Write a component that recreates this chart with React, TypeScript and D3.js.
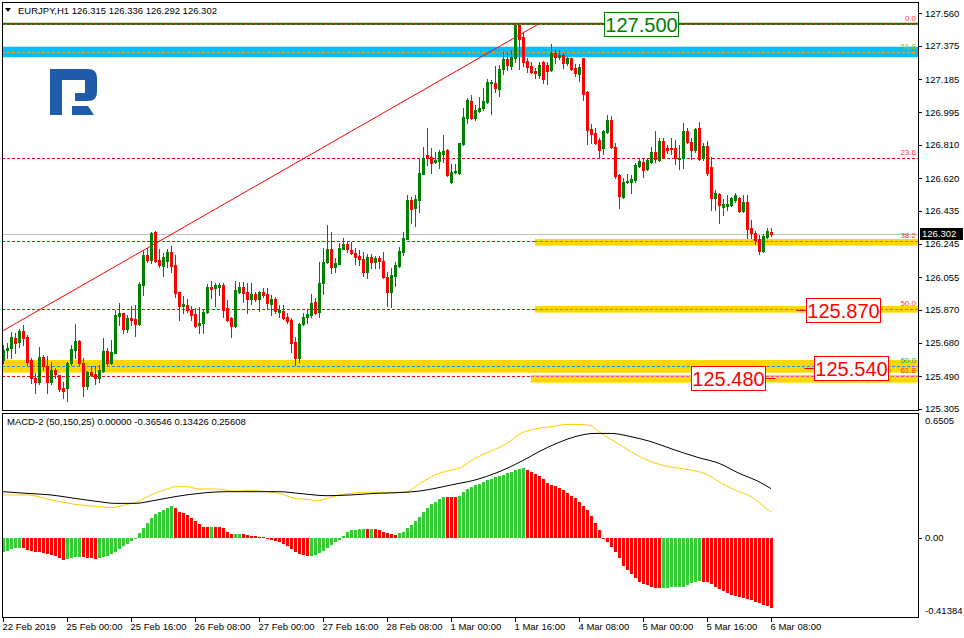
import * as d3 from 'd3';

const symbolTitle = 'EURJPY,H1  126.315 126.336 126.292 126.302';
const macdTitle = 'MACD-2 (50,150,25) 0.00000 -0.36546 0.13426 0.25608';

// H1 candles, 22 Feb 08:00 .. 6 Mar 08:00
const opens = [
  125.584, 125.642, 125.654, 125.707, 125.684, 125.749, 125.715, 125.584, 125.483, 125.460,
  125.603, 125.549, 125.460, 125.527, 125.498, 125.426, 125.426, 125.565, 125.641, 125.692,
  125.568, 125.437, 125.517, 125.504, 125.483, 125.523, 125.635, 125.568, 125.625, 125.836,
  125.850, 125.760, 125.821, 125.815, 125.787, 126.011, 126.182, 126.154, 126.311, 126.154,
  126.121, 126.148, 126.197, 126.125, 125.973, 125.889, 125.897, 125.869, 125.844, 125.783,
  125.793, 125.855, 126.002, 125.996, 126.002, 126.011, 125.878, 125.821, 125.779, 125.973,
  126.002, 125.973, 125.931, 125.958, 125.931, 125.973, 125.958, 125.905, 125.931, 125.859,
  125.865, 125.831, 125.812, 125.688, 125.593, 125.787, 125.831, 125.840, 125.916, 125.859,
  126.020, 126.140, 126.216, 126.116, 126.131, 126.216, 126.243, 126.211, 126.192, 126.178,
  126.159, 126.083, 126.173, 126.140, 126.167, 126.148, 126.059, 125.973, 126.062, 126.121,
  126.201, 126.273, 126.496, 126.448, 126.496, 126.644, 126.752, 126.743, 126.710, 126.718,
  126.756, 126.781, 126.600, 126.653, 126.648, 126.813, 126.965, 127.060, 126.961, 127.003,
  127.018, 127.052, 127.161, 127.161, 127.128, 127.242, 127.297, 127.261, 127.307, 127.495,
  127.427, 127.290, 127.261, 127.231, 127.208, 127.284, 127.265, 127.237, 127.332, 127.313,
  127.322, 127.275, 127.303, 127.246, 127.214, 127.303, 127.109, 126.900, 126.876, 126.838,
  126.790, 126.885, 126.952, 126.800, 126.638, 126.515, 126.596, 126.600, 126.610, 126.691,
  126.714, 126.672, 126.714, 126.771, 126.724, 126.832, 126.790, 126.794, 126.790, 126.729,
  126.733, 126.889, 126.828, 126.781, 126.904, 126.737, 126.803, 126.686, 126.505, 126.530,
  126.458, 126.463, 126.467, 126.496, 126.505, 126.435, 126.482, 126.334, 126.309, 126.273,
  126.205, 126.287, 126.315,
];
const highs = [
  125.669, 125.679, 125.745, 125.736, 125.760, 125.783, 125.726, 125.593, 125.508, 125.660,
  125.612, 125.608, 125.574, 125.536, 125.498, 125.460, 125.574, 125.669, 125.789, 125.698,
  125.593, 125.523, 125.546, 125.546, 125.555, 125.707, 125.654, 125.698, 125.869, 125.907,
  125.850, 125.840, 125.893, 125.897, 126.030, 126.211, 126.220, 126.315, 126.320, 126.216,
  126.192, 126.216, 126.235, 126.182, 125.973, 125.950, 125.931, 125.893, 125.878, 125.888,
  125.874, 126.015, 126.034, 126.020, 126.024, 126.020, 125.926, 125.831, 126.034, 126.030,
  126.030, 126.020, 126.024, 125.969, 125.977, 125.992, 125.996, 125.954, 125.945, 125.897,
  125.897, 125.850, 125.821, 125.717, 125.793, 125.850, 125.869, 125.958, 125.939, 126.144,
  126.220, 126.353, 126.315, 126.163, 126.249, 126.281, 126.262, 126.258, 126.220, 126.211,
  126.201, 126.186, 126.188, 126.178, 126.178, 126.197, 126.087, 126.106, 126.144, 126.230,
  126.315, 126.524, 126.515, 126.524, 126.733, 126.800, 126.904, 126.790, 126.771, 126.781,
  126.866, 126.784, 126.699, 126.699, 126.822, 127.022, 127.075, 127.094, 127.037, 127.085,
  127.132, 127.185, 127.180, 127.261, 127.265, 127.341, 127.337, 127.350, 127.495, 127.500,
  127.446, 127.303, 127.284, 127.246, 127.280, 127.290, 127.284, 127.383, 127.356, 127.350,
  127.332, 127.313, 127.307, 127.269, 127.269, 127.307, 127.117, 126.927, 126.908, 126.847,
  126.895, 126.980, 126.976, 126.819, 126.642, 126.619, 126.642, 126.638, 126.705, 126.737,
  126.733, 126.737, 126.800, 126.889, 126.847, 126.847, 126.809, 126.847, 126.838, 126.809,
  126.932, 126.904, 126.847, 126.904, 126.942, 126.819, 126.832, 126.743, 126.552, 126.534,
  126.501, 126.524, 126.515, 126.534, 126.515, 126.524, 126.524, 126.382, 126.319, 126.296,
  126.300, 126.334, 126.336,
];
const lows = [
  125.565, 125.593, 125.593, 125.622, 125.660, 125.669, 125.555, 125.451, 125.394, 125.445,
  125.527, 125.394, 125.445, 125.479, 125.409, 125.365, 125.352, 125.555, 125.593, 125.555,
  125.380, 125.418, 125.489, 125.445, 125.456, 125.517, 125.555, 125.559, 125.622, 125.783,
  125.736, 125.741, 125.783, 125.722, 125.783, 125.954, 126.140, 126.135, 126.140, 126.116,
  126.064, 126.116, 126.083, 125.945, 125.812, 125.850, 125.855, 125.812, 125.774, 125.736,
  125.736, 125.850, 125.935, 125.893, 125.954, 125.831, 125.806, 125.717, 125.774, 125.964,
  125.916, 125.850, 125.901, 125.920, 125.863, 125.945, 125.882, 125.840, 125.853, 125.831,
  125.817, 125.793, 125.627, 125.555, 125.574, 125.783, 125.793, 125.831, 125.844, 125.831,
  125.958, 126.135, 126.078, 126.087, 126.129, 126.216, 126.201, 126.186, 126.129, 126.125,
  126.064, 126.053, 126.106, 126.110, 126.106, 126.049, 125.891, 125.886, 126.007, 126.116,
  126.182, 126.273, 126.363, 126.349, 126.425, 126.642, 126.695, 126.651, 126.704, 126.680,
  126.714, 126.634, 126.594, 126.648, 126.646, 126.809, 126.933, 126.957, 126.952, 126.999,
  127.009, 127.047, 126.984, 127.109, 127.090, 127.212, 127.237, 127.242, 127.284, 127.242,
  127.261, 127.227, 127.218, 127.193, 127.189, 127.164, 127.155, 127.231, 127.275, 127.299,
  127.246, 127.265, 127.237, 127.204, 127.174, 127.066, 126.813, 126.819, 126.813, 126.733,
  126.756, 126.876, 126.790, 126.623, 126.448, 126.509, 126.591, 126.533, 126.600, 126.686,
  126.629, 126.667, 126.705, 126.714, 126.718, 126.737, 126.762, 126.756, 126.699, 126.672,
  126.680, 126.819, 126.729, 126.771, 126.724, 126.724, 126.638, 126.439, 126.439, 126.363,
  126.410, 126.439, 126.463, 126.486, 126.425, 126.429, 126.281, 126.281, 126.243, 126.186,
  126.201, 126.281, 126.292,
];
const closes = [
  125.641, 125.654, 125.713, 125.679, 125.749, 125.711, 125.574, 125.483, 125.460, 125.599,
  125.546, 125.460, 125.527, 125.502, 125.416, 125.409, 125.568, 125.646, 125.692, 125.565,
  125.437, 125.517, 125.498, 125.483, 125.527, 125.635, 125.568, 125.631, 125.840, 125.853,
  125.760, 125.825, 125.812, 125.787, 126.015, 126.182, 126.154, 126.306, 126.148, 126.125,
  126.173, 126.197, 126.121, 125.964, 125.893, 125.901, 125.869, 125.840, 125.779, 125.796,
  125.859, 126.002, 125.988, 126.011, 126.011, 125.869, 125.812, 125.779, 125.983, 126.002,
  125.967, 125.931, 125.958, 125.931, 125.973, 125.954, 125.907, 125.931, 125.863, 125.869,
  125.821, 125.808, 125.679, 125.597, 125.787, 125.831, 125.846, 125.907, 125.853, 126.020,
  126.144, 126.216, 126.116, 126.135, 126.220, 126.243, 126.216, 126.192, 126.173, 126.159,
  126.087, 126.173, 126.140, 126.163, 126.148, 126.059, 125.973, 126.068, 126.125, 126.205,
  126.277, 126.496, 126.444, 126.501, 126.647, 126.737, 126.733, 126.708, 126.724, 126.767,
  126.775, 126.638, 126.653, 126.661, 126.819, 126.971, 127.066, 126.961, 127.009, 127.022,
  127.060, 127.166, 127.170, 127.132, 127.242, 127.297, 127.265, 127.312, 127.493, 127.413,
  127.284, 127.256, 127.227, 127.218, 127.265, 127.185, 127.231, 127.332, 127.313, 127.322,
  127.275, 127.303, 127.242, 127.218, 127.256, 127.100, 126.895, 126.874, 126.822, 126.781,
  126.889, 126.952, 126.800, 126.634, 126.520, 126.600, 126.606, 126.613, 126.695, 126.718,
  126.667, 126.724, 126.771, 126.729, 126.832, 126.743, 126.781, 126.784, 126.733, 126.737,
  126.889, 126.828, 126.781, 126.900, 126.729, 126.805, 126.647, 126.505, 126.534, 126.467,
  126.471, 126.471, 126.509, 126.524, 126.433, 126.482, 126.330, 126.306, 126.268, 126.205,
  126.292, 126.319, 126.302,
];

const priceTicks = [127.56, 127.375, 127.185, 126.995, 126.81, 126.62, 126.435, 126.245, 126.055, 125.87, 125.68, 125.49, 125.305];
const lastPrice = 126.302;

const timeTickBars = [0, 16, 32, 48, 64, 80, 96, 112, 128, 144, 160, 176, 192];
const timeLabels = [
  '22 Feb 2019', '25 Feb 00:00', '25 Feb 16:00', '26 Feb 08:00', '27 Feb 00:00', '27 Feb 16:00',
  '28 Feb 08:00', '1 Mar 00:00', '1 Mar 16:00', '4 Mar 08:00', '5 Mar 00:00', '5 Mar 16:00', '6 Mar 08:00',
];

// fibo grid drawn from the swing low (off screen) to the 127.500 high
const fibLevels = [
  { label: '0.0', price: 127.5 },
  { label: '23.6', price: 126.733 },
  { label: '38.2', price: 126.259 },
  { label: '50.0', price: 125.875 },
  { label: '61.8', price: 125.491 },
];
const fibTrend = [
  { bar: 0, price: 125.75 },
  { bar: 134, price: 127.5 },
];
// second grid (only two levels visible)
const fib2Levels = [
  { label: '61.8', price: 127.339 },
  { label: '50.0', price: 125.549 },
];

// support / resistance zones: [low, high, first bar or null for full width]
const blueZone = { lo: 127.309, hi: 127.369, start: null as number | null };
const yellowZones = [
  { lo: 126.235, hi: 126.273, start: 133 as number | null, mid: 126.259 },
  { lo: 125.853, hi: 125.891, start: 133 as number | null, mid: 125.875 },
  { lo: 125.511, hi: 125.583, start: null as number | null, mid: null as number | null },
  { lo: 125.454, hi: 125.498, start: 132 as number | null, mid: 125.491 },
];

const priceTags = [
  { text: '127.500', price: 127.5, bar: 150.25, tail: 'none' },
  { text: '125.870', price: 125.87, bar: 200.75, tail: 'left' },
  { text: '125.540', price: 125.54, bar: 202.75, tail: 'left' },
  { text: '125.480', price: 125.48, bar: 172, tail: 'right' },
];

// MACD-2 histogram, one value per bar
const hist = [
  -0.077, -0.070, -0.059, -0.056, -0.052, -0.056, -0.064, -0.070, -0.073, -0.077,
  -0.082, -0.087, -0.090, -0.094, -0.104, -0.117, -0.111, -0.104, -0.103, -0.099,
  -0.103, -0.104, -0.108, -0.110, -0.108, -0.103, -0.096, -0.085, -0.073, -0.059,
  -0.045, -0.031, -0.017, -0.007, 0.023, 0.049, 0.075, 0.104, 0.122, 0.134,
  0.144, 0.157, 0.165, 0.153, 0.136, 0.127, 0.118, 0.101, 0.087, 0.070,
  0.057, 0.056, 0.057, 0.056, 0.056, 0.049, 0.031, 0.017, 0.019, 0.021,
  0.017, 0.014, 0.010, 0.007, 0.003, 0.003, -0.005, -0.012, -0.017, -0.024,
  -0.035, -0.043, -0.059, -0.077, -0.087, -0.092, -0.096, -0.094, -0.090, -0.082,
  -0.070, -0.052, -0.038, -0.024, -0.012, 0.010, 0.028, 0.038, 0.042, 0.043,
  0.045, 0.043, 0.045, 0.043, 0.040, 0.031, 0.023, 0.017, 0.014, 0.023,
  0.031, 0.049, 0.066, 0.087, 0.110, 0.132, 0.153, 0.174, 0.188, 0.200,
  0.212, 0.212, 0.212, 0.210, 0.219, 0.237, 0.254, 0.266, 0.275, 0.282,
  0.290, 0.299, 0.308, 0.315, 0.322, 0.329, 0.336, 0.343, 0.351, 0.358,
  0.365, 0.353, 0.341, 0.330, 0.320, 0.304, 0.287, 0.275, 0.268, 0.257,
  0.247, 0.233, 0.219, 0.205, 0.184, 0.167, 0.144, 0.115, 0.075, 0.040,
  -0.003, -0.021, -0.047, -0.073, -0.104, -0.146, -0.170, -0.191, -0.212, -0.230,
  -0.240, -0.249, -0.256, -0.261, -0.263, -0.261, -0.261, -0.259, -0.259, -0.257,
  -0.256, -0.247, -0.238, -0.231, -0.228, -0.230, -0.233, -0.243, -0.256, -0.266,
  -0.278, -0.289, -0.297, -0.303, -0.308, -0.313, -0.318, -0.325, -0.334, -0.343,
  -0.351, -0.358, -0.365,
];
// up / down runs of the histogram colouring
const histRuns: [string, number][] = [
  ['g', 5], ['r', 11], ['g', 4], ['r', 4], ['g', 19], ['r', 9], ['g', 1], ['r', 5], ['g', 2], ['r', 17],
  ['g', 14], ['r', 1], ['g', 1], ['r', 6], ['g', 12], ['r', 3], ['g', 17], ['r', 34], ['g', 10], ['r', 18],
];

const yellowBars = [0, 6, 12, 18, 24, 27, 31, 34, 37, 41, 43, 46, 49, 53, 58, 62, 66, 69, 73, 77, 78, 81, 84, 87, 90, 94, 99, 101, 103, 108, 112, 114, 118, 122, 126, 129, 133, 137, 141, 144, 147, 149, 153, 157, 161, 164, 168, 172, 176, 179, 183, 187, 191, 192];
const yellowValues = [0.223, 0.223, 0.197, 0.174, 0.162, 0.157, 0.174, 0.191, 0.223, 0.254, 0.266, 0.266, 0.254, 0.254, 0.243, 0.247, 0.240, 0.231, 0.205, 0.197, 0.191, 0.205, 0.223, 0.231, 0.237, 0.237, 0.237, 0.240, 0.266, 0.327, 0.353, 0.362, 0.414, 0.452, 0.492, 0.539, 0.567, 0.579, 0.591, 0.591, 0.584, 0.553, 0.501, 0.449, 0.405, 0.383, 0.365, 0.353, 0.330, 0.292, 0.249, 0.214, 0.150, 0.134];
const blackBars = [0, 6, 12, 18, 24, 28, 33, 37, 43, 49, 56, 62, 69, 74, 81, 87, 93, 99, 104, 108, 112, 118, 124, 131, 134, 139, 143, 148, 152, 157, 162, 168, 174, 179, 184, 189, 192];
const blackValues = [0.240, 0.231, 0.223, 0.205, 0.188, 0.179, 0.179, 0.191, 0.214, 0.231, 0.240, 0.240, 0.240, 0.231, 0.219, 0.223, 0.231, 0.235, 0.243, 0.257, 0.275, 0.301, 0.344, 0.414, 0.449, 0.497, 0.527, 0.544, 0.544, 0.527, 0.501, 0.457, 0.417, 0.388, 0.336, 0.292, 0.256];
const macdTicks = [0.6505, 0, -0.41384];

const FONT = 'Liberation Sans, Arial, sans-serif';
const BULL = '#008000';
const BEAR = '#ff0000';

export default function App() {
  const W = 964;
  const H = 638;
  const left = 2;
  const right = 918;
  const mainTop = 2;
  const mainBottom = 410;
  const macdTop = 413;
  const macdBottom = 617;

  const x = d3.scaleLinear().domain([0, 192]).range([3, 771]);
  const y = d3.scaleLinear().domain([125.298, 127.624]).range([mainBottom, mainTop]);
  const ym = d3.scaleLinear().domain([-0.41384, 0.6505]).range([macdBottom, macdTop]);

  const histColors: string[] = [];
  histRuns.forEach(([c, n]) => {
    for (let k = 0; k < n; k++) histColors.push(c);
  });

  const line = d3
    .line<[number, number]>()
    .x((d) => x(d[0]))
    .y((d) => ym(d[1]))
    .curve(d3.curveMonotoneX);
  const yellowPath = line(yellowBars.map((b, i) => [b, yellowValues[i]] as [number, number])) || '';
  const blackPath = line(blackBars.map((b, i) => [b, blackValues[i]] as [number, number])) || '';

  const zoneX = (start: number | null) => (start === null ? left : x(start));
  const py = (p: number) => Math.round(y(p)) + 0.5;
  const zeroY = Math.round(ym(0));

  return (
    <svg
      width={W}
      height={H}
      style={{ position: 'absolute', left: 0, top: 0, background: '#fff' }}
      fontFamily={FONT}
    >
      <rect x={0} y={0} width={W} height={H} fill="#fff" />

      {/* fibo levels (red dashed) */}
      {fibLevels.map((f) => (
        <line key={'f' + f.label} x1={left} x2={right} y1={py(f.price)} y2={py(f.price)} stroke="#ff0000" strokeDasharray="3,2" />
      ))}

      {/* zones */}
      <rect x={zoneX(blueZone.start)} y={y(blueZone.hi)} width={right - zoneX(blueZone.start)} height={y(blueZone.lo) - y(blueZone.hi)} fill="#00bfff" />
      {yellowZones.map((z, i) => (
        <rect key={'z' + i} x={zoneX(z.start)} y={y(z.hi)} width={right - zoneX(z.start)} height={y(z.lo) - y(z.hi)} fill="#ffd700" />
      ))}
      {yellowZones
        .filter((z) => z.mid !== null)
        .map((z, i) => (
          <line key={'zm' + i} x1={zoneX(z.start)} x2={right} y1={py(z.mid as number)} y2={py(z.mid as number)} stroke="#ff44cc" strokeDasharray="3,2" />
        ))}
      <line x1={left} x2={right} y1={py(fib2Levels[0].price)} y2={py(fib2Levels[0].price)} stroke="#ffa500" strokeDasharray="3,2" />
      <line x1={left} x2={right} y1={py(fib2Levels[1].price)} y2={py(fib2Levels[1].price)} stroke="#1e90ff" strokeDasharray="3,2" />

      {/* current price line */}
      <line x1={left} x2={right} y1={py(lastPrice)} y2={py(lastPrice)} stroke="#c0c0c0" />

      {/* fibo trend line */}
      <line x1={x(fibTrend[0].bar)} y1={y(fibTrend[0].price)} x2={x(fibTrend[1].bar)} y2={y(fibTrend[1].price)} stroke="#ff0000" />

      {/* 127.500 level */}
      <line x1={left} x2={right} y1={y(127.5)} y2={y(127.5)} stroke="#008000" strokeWidth={2} />
      <line x1={left} x2={right} y1={y(127.5)} y2={y(127.5)} stroke="#ff0000" strokeDasharray="3,2" />

      {/* candles */}
      {opens.map((o, i) => {
        const c = closes[i];
        const xs = Math.round(x(i));
        const col = c >= o ? BULL : BEAR;
        const yh = Math.round(y(highs[i]));
        const yl = Math.round(y(lows[i]));
        const yt = Math.round(y(Math.max(o, c)));
        const yb = Math.round(y(Math.min(o, c)));
        return (
          <g key={'c' + i} fill={col}>
            <rect x={xs} y={yh} width={1} height={Math.max(1, yl - yh + 1)} />
            <rect x={xs - 1} y={yt} width={3} height={Math.max(1, yb - yt + 1)} />
          </g>
        );
      })}

      {/* logo */}
      <g fill="#1f5ba8">
        <path d="M50,69 H88 Q97,69 97,78 V92 Q97,101 88,101 H75 V93 H85 V80 H62 V115 H50 Z" />
        <path d="M72,106 H88 L94,115 H72 Z" />
      </g>

      {/* fibo labels */}
      {fibLevels.map((f) => (
        <text key={'fl' + f.label} x={916} y={y(f.price) - 3} fontSize={8} textAnchor="end" fill="#ff3030">
          {f.label}
        </text>
      ))}
      <text x={916} y={y(fib2Levels[0].price) - 3} fontSize={8} textAnchor="end" fill="#8fbc2f">
        {fib2Levels[0].label}
      </text>
      <text x={916} y={y(fib2Levels[1].price) - 3} fontSize={8} textAnchor="end" fill="#20a0a8">
        {fib2Levels[1].label}
      </text>

      {/* price tags */}
      {priceTags.map((t) => {
        const bx = Math.round(x(t.bar)) + 0.5;
        const cy = Math.round(y(t.price));
        const col = t.tail === 'none' ? '#008000' : '#ff0000';
        const w = 74;
        return (
          <g key={'t' + t.text}>
            {t.tail === 'left' && <line x1={bx - 10} x2={bx} y1={cy + 0.5} y2={cy + 0.5} stroke={col} />}
            {t.tail === 'right' && <line x1={bx + w} x2={bx + w + 10} y1={cy + 0.5} y2={cy + 0.5} stroke={col} />}
            <rect x={bx} y={cy - 11.5} width={w} height={24} fill="#fff" stroke={col} />
            <text x={bx + w / 2} y={cy + 8} fontSize={20} textAnchor="middle" fill={col}>
              {t.text}
            </text>
          </g>
        );
      })}

      {/* header */}
      <path d="M5,8 H11 L8,12 Z" fill="#000" />
      <text x={18} y={14} fontSize={9.5} fill="#000">
        {symbolTitle}
      </text>

      {/* main frame and price axis */}
      <rect x={left + 0.5} y={mainTop + 0.5} width={right - left} height={mainBottom - mainTop} fill="none" stroke="#000" />
      {priceTicks.map((p) => (
        <g key={'p' + p}>
          <line x1={right} x2={right + 4} y1={py(p)} y2={py(p)} stroke="#000" />
          <text x={925} y={y(p) + 3.5} fontSize={9.5} fill="#000">
            {p.toFixed(3)}
          </text>
        </g>
      ))}
      <rect x={920} y={Math.round(y(lastPrice)) - 6} width={43} height={12} fill="#000" />
      <text x={922} y={y(lastPrice) + 3.5} fontSize={9.5} fill="#fff">
        {lastPrice.toFixed(3)}
      </text>

      {/* MACD panel */}
      {hist.map((v, i) => {
        const xs = Math.round(x(i));
        const yv = Math.round(ym(v));
        const top = Math.min(yv, zeroY);
        const h = Math.max(1, Math.abs(yv - zeroY));
        return <rect key={'h' + i} x={xs - 1} y={top} width={3} height={h} fill={histColors[i] === 'g' ? '#32cd32' : '#ff0000'} />;
      })}
      <path d={yellowPath} fill="none" stroke="#ffcc00" strokeWidth={1} />
      <path d={blackPath} fill="none" stroke="#000" strokeWidth={1} />
      <text x={7} y={425} fontSize={9.5} fill="#000">
        {macdTitle}
      </text>
      <rect x={left + 0.5} y={macdTop + 0.5} width={right - left} height={macdBottom - macdTop} fill="none" stroke="#000" />
      {macdTicks.map((v, i) => {
        const ty = i === 0 ? macdTop + 11 : i === 2 ? macdBottom - 3 : ym(v) + 3.5;
        return (
          <g key={'m' + i}>
            {i === 1 && <line x1={right} x2={right + 4} y1={zeroY + 0.5} y2={zeroY + 0.5} stroke="#000" />}
            <text x={925} y={ty} fontSize={9.5} fill="#000">
              {i === 1 ? '0.00' : String(v)}
            </text>
          </g>
        );
      })}

      {/* time axis */}
      {timeTickBars.map((b, i) => {
        const xs = Math.round(x(b)) + 0.5;
        return (
          <g key={'x' + b}>
            <line x1={xs} x2={xs} y1={macdBottom} y2={macdBottom + 5} stroke="#000" />
            <text x={xs - 1} y={630} fontSize={9.5} fill="#000">
              {timeLabels[i]}
            </text>
          </g>
        );
      })}
    </svg>
  );
}
